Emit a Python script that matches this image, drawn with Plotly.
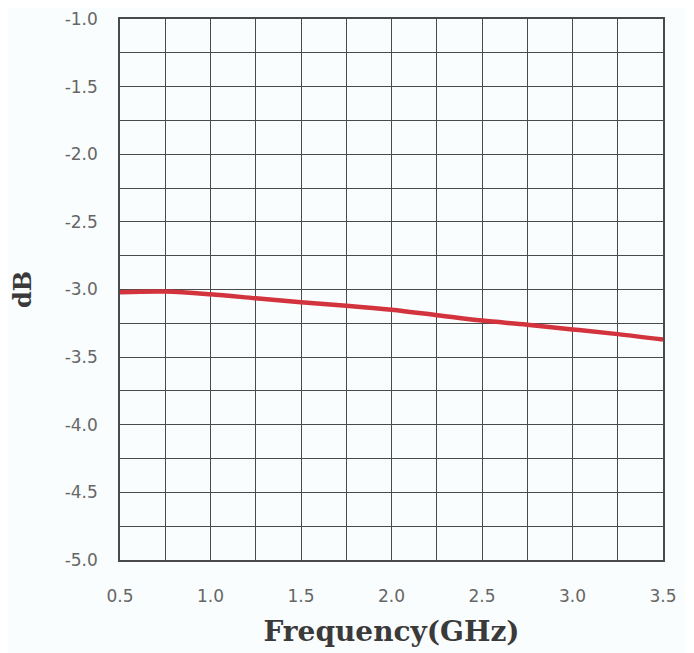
import plotly.graph_objects as go

freq = [0.5, 0.75, 1.0, 1.25, 1.5, 1.75, 2.0, 2.25, 2.5, 2.75, 3.0, 3.25, 3.5]
db = [-3.02, -3.015, -3.035, -3.065, -3.095, -3.12, -3.15, -3.19, -3.23, -3.26, -3.295, -3.33, -3.37]

x_ticks = [0.5, 1.0, 1.5, 2.0, 2.5, 3.0, 3.5]
y_ticks = [-5.0, -4.5, -4.0, -3.5, -3.0, -2.5, -2.0, -1.5, -1.0]

grid_color = "#4a4a4a"
title_font = "DejaVu Serif"

fig = go.Figure()
fig.add_trace(go.Scatter(x=freq, y=db, mode="lines",
                         line=dict(color="#d2333d", width=4.5, shape="spline"),
                         showlegend=False))

fig.update_layout(
    width=686, height=645,
    margin=dict(l=112, r=31, t=11, b=93, autoexpand=False),
    paper_bgcolor="#fafdfd", plot_bgcolor="#fafdfd",
    font=dict(family="DejaVu Sans", color="#666666", size=16),
)
fig.update_xaxes(
    range=[0.5, 3.5], tickvals=x_ticks, ticktext=[f"{v:.1f}" for v in x_ticks],
    showgrid=True, gridcolor=grid_color, gridwidth=1.3,
    minor=dict(dtick=0.25, tick0=0.5, showgrid=True, gridcolor=grid_color, gridwidth=1.3),
    showline=True, linecolor=grid_color, linewidth=1.5, mirror=True,
    zeroline=False, ticks="", ticklabelstandoff=20, automargin=False,
    tickfont=dict(size=17),
    title=dict(text="<b>Frequency(GHz)</b>", font=dict(family=title_font, size=28, color="#3a3a3a"), standoff=16),
)
fig.update_yaxes(
    range=[-5.0, -1.0], tickvals=y_ticks, ticktext=[f"{v:.1f}" for v in y_ticks],
    showgrid=True, gridcolor=grid_color, gridwidth=1.3,
    minor=dict(dtick=0.25, tick0=-5.0, showgrid=True, gridcolor=grid_color, gridwidth=1.3),
    showline=True, linecolor=grid_color, linewidth=1.5, mirror=True,
    zeroline=False, ticks="", ticklabelstandoff=17, automargin=False,
    tickfont=dict(size=17),
    title=dict(text="<b>dB</b>", font=dict(family=title_font, size=24, color="#3a3a3a"), standoff=26),
)

fig.write_html("out.html")
